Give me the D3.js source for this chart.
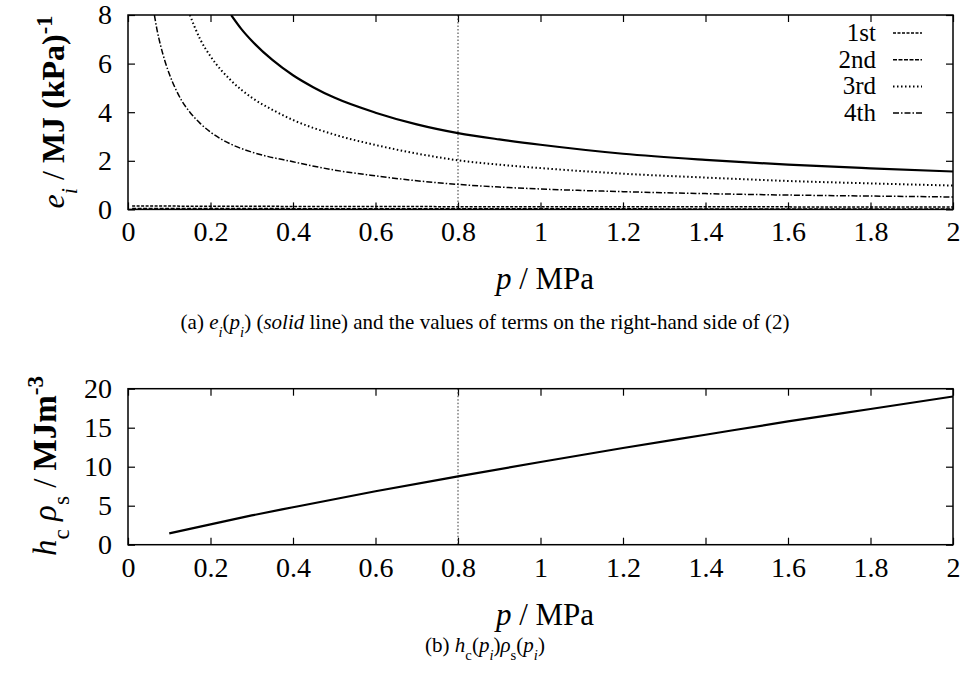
<!DOCTYPE html>
<html>
<head>
<meta charset="utf-8">
<script src="https://cdn.jsdelivr.net/npm/d3@7"></script>
<style>
  html, body { margin: 0; padding: 0; background: #fff; }
  svg, svg text { font-family: "Liberation Serif", "Times New Roman", Times, serif; }
</style>
</head>
<body>
<svg id="chart" width="967" height="673"></svg>
<script>
// ---- data ----
const xTicks = [0, 0.2, 0.4, 0.6, 0.8, 1, 1.2, 1.4, 1.6, 1.8, 2];
const yTicksA = [0, 2, 4, 6, 8];
const yTicksB = [0, 5, 10, 15, 20];
const markerP = 0.8;

const legendNames = ['1st', '2nd', '3rd', '4th'];

// e_i(p_i), solid line
const pSolid = [0.25, 0.275, 0.3, 0.35, 0.4, 0.45, 0.5, 0.6, 0.7, 0.8, 0.9, 1.0, 1.2, 1.4, 1.6, 1.8, 2.0];
const eSolid = [8.0, 7.42, 6.94, 6.15, 5.52, 5.02, 4.6, 3.98, 3.5, 3.14, 2.88, 2.66, 2.29, 2.04, 1.84, 1.69, 1.56];

// terms of the right-hand side
const pFirst = [0.01, 0.5, 1.0, 1.5, 2.0];
const eFirst = [0.14, 0.12, 0.11, 0.105, 0.1];
const pSecond = [0.01, 0.5, 1.0, 1.5, 2.0];
const eSecond = [0.04, 0.03, 0.025, 0.02, 0.02];
const pThird = [0.15, 0.175, 0.2, 0.25, 0.3, 0.35, 0.4, 0.5, 0.6, 0.7, 0.8, 0.9, 1.0, 1.2, 1.4, 1.6, 1.8, 2.0];
const eThird = [8.0, 7.0, 6.3, 5.3, 4.6, 4.1, 3.68, 3.08, 2.65, 2.3, 2.02, 1.84, 1.7, 1.47, 1.31, 1.17, 1.07, 0.98];
const pFourth = [0.064, 0.07, 0.08, 0.09, 0.1, 0.115, 0.13, 0.15, 0.175, 0.2, 0.25, 0.3, 0.4, 0.5, 0.6, 0.7, 0.8, 0.9, 1.0, 1.2, 1.4, 1.6, 1.8, 2.0];
const eFourth = [8.0, 7.42, 6.68, 6.08, 5.58, 4.97, 4.48, 4.0, 3.54, 3.18, 2.68, 2.36, 1.96, 1.62, 1.38, 1.18, 1.03, 0.92, 0.84, 0.73, 0.65, 0.59, 0.55, 0.51];

// h_c rho_s
const pHc = [0.1, 0.2, 0.3, 0.4, 0.6, 0.8, 1.0, 1.2, 1.4, 1.6, 1.8, 2.0];
const hcRho = [1.45, 2.6, 3.75, 4.8, 6.85, 8.75, 10.6, 12.4, 14.1, 15.8, 17.4, 19.0];

// ---- drawing ----
const FONT = '"Liberation Serif", "Times New Roman", Times, serif';
const svg = d3.select('#chart').attr('font-family', FONT);
const fmt = d3.format('~g');
const left = 128;
const right = 953;
const tickLen = 7;

const zip = (xs, ys) => xs.map((x, i) => [x, ys[i]]);

const drawPanel = (cfg) => {
  const x = d3.scaleLinear().domain([0, 2]).range([left, right]);
  const y = d3.scaleLinear().domain(cfg.yDomain).range([cfg.bottom, cfg.top]);
  const g = svg.append('g');

  const clipId = 'clip-' + cfg.id;
  svg.append('clipPath').attr('id', clipId)
    .append('rect')
    .attr('x', left).attr('y', cfg.top)
    .attr('width', right - left).attr('height', cfg.bottom - cfg.top);

  // inward ticks on all four sides
  const ax = (axis, tr) => g.append('g').attr('transform', tr).call(axis)
    .attr('font-family', FONT)
    .call((s) => s.select('.domain').remove())
    .call((s) => s.selectAll('line').attr('stroke', '#000').attr('stroke-width', 1.2));
  ax(d3.axisBottom(x).tickValues(xTicks).tickSize(-tickLen).tickFormat(fmt), `translate(0,${cfg.bottom})`)
    .selectAll('text')
    .attr('y', 12)
    .attr('dy', '0.71em')
    .attr('font-size', 28)
    .attr('fill', '#000');
  ax(d3.axisTop(x).tickValues(xTicks).tickSize(-tickLen).tickFormat(''), `translate(0,${cfg.top})`);
  ax(d3.axisLeft(y).tickValues(cfg.yTicks).tickSize(-tickLen).tickFormat(fmt), `translate(${left},0)`)
    .selectAll('text')
    .attr('x', -16)
    .attr('font-size', 28)
    .attr('fill', '#000');
  ax(d3.axisRight(y).tickValues(cfg.yTicks).tickSize(-tickLen).tickFormat(''), `translate(${right},0)`);

  // marker at p = 0.8
  g.append('line')
    .attr('x1', x(markerP)).attr('x2', x(markerP))
    .attr('y1', cfg.top).attr('y2', cfg.bottom)
    .attr('stroke', '#333').attr('stroke-width', 1)
    .attr('stroke-dasharray', '1.5,2');

  const line = d3.line().x((d) => x(d[0])).y((d) => y(d[1])).curve(d3.curveMonotoneX);
  const plot = g.append('g').attr('clip-path', `url(#${clipId})`);
  cfg.series.forEach((s) => {
    plot.append('path')
      .attr('d', line(s.data))
      .attr('fill', 'none')
      .attr('stroke', '#000')
      .attr('stroke-width', s.width)
      .attr('stroke-dasharray', s.dash);
  });

  // frame
  g.append('rect')
    .attr('x', left).attr('y', cfg.top)
    .attr('width', right - left).attr('height', cfg.bottom - cfg.top)
    .attr('fill', 'none').attr('stroke', '#000').attr('stroke-width', 1.5);

  // x label
  const xl = g.append('text')
    .attr('x', 545).attr('y', cfg.bottom + 80)
    .attr('text-anchor', 'middle')
    .attr('font-size', 31);
  xl.append('tspan').style('font-style', 'italic').text('p');
  xl.append('tspan').text(' / MPa');

  // caption, centred on the whole figure
  const cap = g.append('text')
    .attr('x', 485).attr('y', cfg.captionY)
    .attr('text-anchor', 'middle')
    .attr('font-size', 21);
  cfg.caption(cap);

  return { x, y, g };
};

const sub = (t, s, italic) => t.append('tspan').attr('baseline-shift', 'sub').attr('font-size', '0.7em')
  .style('font-style', italic ? 'italic' : 'normal').text(s);
const plain = (t, s, style) => t.append('tspan').style('font-style', style || 'normal').text(s);

// ---- panel (a) ----
drawPanel({
  id: 'a',
  top: 15,
  bottom: 209.4,
  yDomain: [0, 8],
  yTicks: yTicksA,
  captionY: 329,
  series: [
    { data: zip(pSolid, eSolid), width: 2.2, dash: null },
    { data: zip(pFirst, eFirst), width: 1.5, dash: '3,1.5' },
    { data: zip(pSecond, eSecond), width: 1.5, dash: '4,1.5' },
    { data: zip(pThird, eThird), width: 2, dash: '1.5,2.5' },
    { data: zip(pFourth, eFourth), width: 1.5, dash: '6,2,1.5,2' },
  ],
  caption: (t) => {
    plain(t, '(a) ');
    plain(t, 'e', 'italic'); sub(t, 'i', true);
    plain(t, '(');
    plain(t, 'p', 'italic'); sub(t, 'i', true);
    plain(t, ') (');
    plain(t, 'solid', 'italic');
    plain(t, ' line) and the values of terms on the right-hand side of (2)');
  },
});

// y label (a)
const yla = svg.append('text')
  .attr('transform', 'translate(64,112) rotate(-90)')
  .attr('text-anchor', 'middle')
  .attr('font-size', 32);
yla.append('tspan').style('font-style', 'italic').text('e');
yla.append('tspan').attr('baseline-shift', 'sub').attr('font-size', '0.7em').style('font-style', 'italic').text('i');
yla.append('tspan').text(' / ');
yla.append('tspan').style('font-weight', 'bold').text('MJ (kPa)');
yla.append('tspan').attr('baseline-shift', 'super').attr('font-size', '0.7em').style('font-weight', 'bold').text('-1');

// legend (a)
const legendDash = ['3,1.5', '4,1.5', '1.5,2.5', '6,2,1.5,2'];
const legendWidth = [1.5, 1.5, 2, 1.5];
const legend = svg.append('g');
legendNames.forEach((name, i) => {
  const cy = 33 + i * 26.7;
  legend.append('text')
    .attr('x', 876).attr('y', cy + 8)
    .attr('text-anchor', 'end')
    .attr('font-size', 25)
    .text(name);
  legend.append('line')
    .attr('x1', 893).attr('x2', 922)
    .attr('y1', cy).attr('y2', cy)
    .attr('stroke', '#000')
    .attr('stroke-width', legendWidth[i])
    .attr('stroke-dasharray', legendDash[i]);
});

// ---- panel (b) ----
drawPanel({
  id: 'b',
  top: 388.7,
  bottom: 544.7,
  yDomain: [0, 20],
  yTicks: yTicksB,
  captionY: 652,
  series: [
    { data: zip(pHc, hcRho), width: 2.2, dash: null },
  ],
  caption: (t) => {
    plain(t, '(b) ');
    plain(t, 'h', 'italic'); sub(t, 'c', false);
    plain(t, '(');
    plain(t, 'p', 'italic'); sub(t, 'i', true);
    plain(t, ')');
    plain(t, 'ρ', 'italic'); sub(t, 's', false);
    plain(t, '(');
    plain(t, 'p', 'italic'); sub(t, 'i', true);
    plain(t, ')');
  },
});

// y label (b)
const ylb = svg.append('text')
  .attr('transform', 'translate(56,466) rotate(-90)')
  .attr('text-anchor', 'middle')
  .attr('font-size', 33);
ylb.append('tspan').style('font-style', 'italic').text('h');
ylb.append('tspan').attr('baseline-shift', 'sub').attr('font-size', '0.7em').text('c');
ylb.append('tspan').text(' ');
ylb.append('tspan').style('font-style', 'italic').text('ρ');
ylb.append('tspan').attr('baseline-shift', 'sub').attr('font-size', '0.7em').text('s');
ylb.append('tspan').text(' / ');
ylb.append('tspan').style('font-weight', 'bold').text('MJm');
ylb.append('tspan').attr('baseline-shift', 'super').attr('font-size', '0.7em').style('font-weight', 'bold').text('-3');
</script>
</body>
</html>
